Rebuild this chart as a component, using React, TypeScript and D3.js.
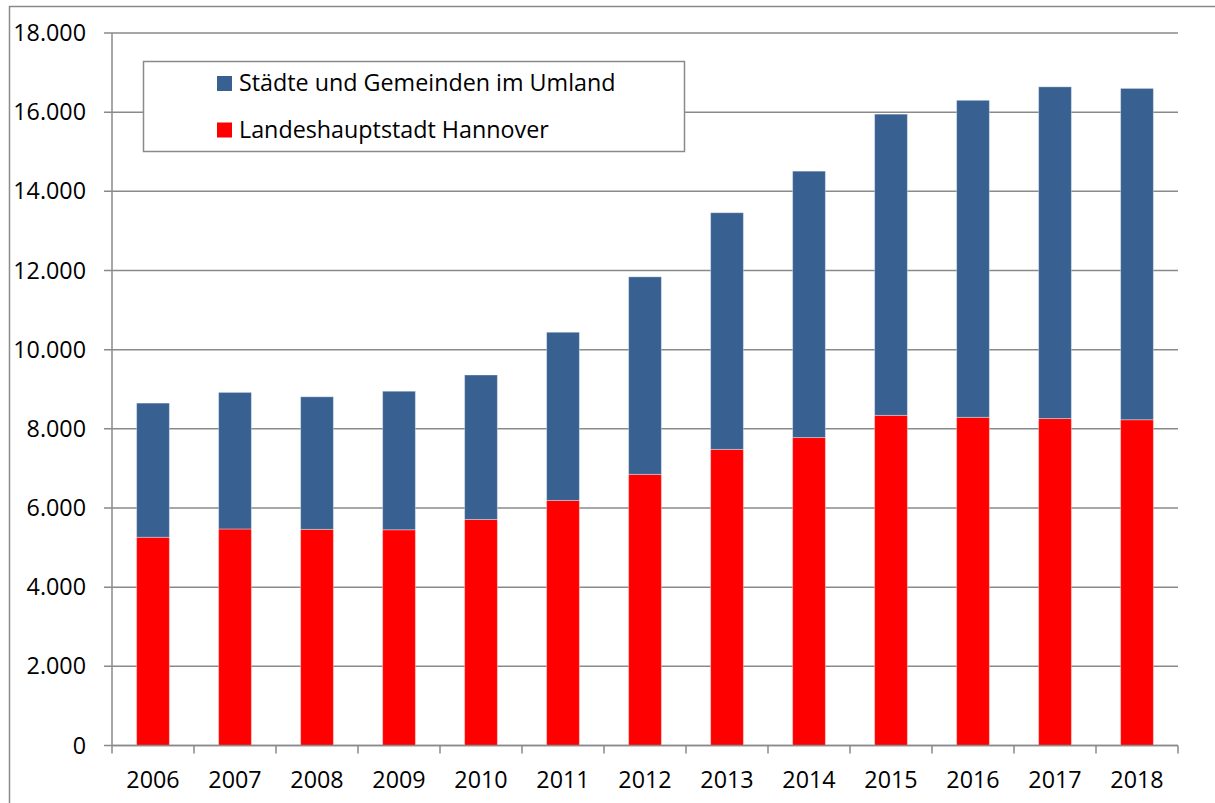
import React, { useEffect, useRef } from 'react';
import * as d3 from 'd3';

// Jahre (x-Achse)
const years = ['2006', '2007', '2008', '2009', '2010', '2011', '2012', '2013', '2014', '2015', '2016', '2017', '2018'];
// Landeshauptstadt Hannover (unten, rot)
const hannover = [5260, 5470, 5460, 5450, 5710, 6190, 6850, 7480, 7780, 8340, 8290, 8260, 8230];
// Städte und Gemeinden im Umland (oben, blau)
const umland = [3390, 3450, 3350, 3500, 3650, 4250, 4990, 5980, 6730, 7610, 8010, 8380, 8370];
const yTicks = [0, 2000, 4000, 6000, 8000, 10000, 12000, 14000, 16000, 18000];
const seriesNames = ['Städte und Gemeinden im Umland', 'Landeshauptstadt Hannover'];

const WIDTH = 1215;
const HEIGHT = 803;
const FONT = '"Open Sans", "Liberation Sans", sans-serif';
const FONT_SIZE = '23.3px';
const GRID = '#8a8a8a';

const App: React.FC = () => {
  const svgRef = useRef<SVGSVGElement>(null);

  useEffect(() => {
    if (!svgRef.current) return;
    const svg = d3.select(svgRef.current);
    svg.selectAll('*').remove();

    const left = 112;
    const right = 1178;
    const top = 33;
    const bottom = 745.5;

    const x = d3.scaleBand<string>().domain(years).range([left, right]).paddingInner(0.6).paddingOuter(0.3);
    const xTickScale = d3.scaleBand<string>().domain(years).range([left, right]);
    const y = d3.scaleLinear().domain([0, 18000]).range([bottom, top]);

    // äußerer Rahmen
    svg
      .append('rect')
      .attr('x', 9.5)
      .attr('y', 6.5)
      .attr('width', WIDTH)
      .attr('height', HEIGHT)
      .style('fill', 'white')
      .style('stroke', GRID)
      .style('stroke-width', 1.5);

    // Gitterlinien + y-Ticks
    const grid = svg.append('g');
    grid
      .selectAll('line')
      .data(yTicks)
      .enter()
      .append('line')
      .attr('x1', left - 8)
      .attr('x2', right)
      .attr('y1', (d) => y(d))
      .attr('y2', (d) => y(d))
      .style('stroke', GRID)
      .style('stroke-width', 1.5);

    const fmt = (v: number) => (v === 0 ? '0' : d3.format(',')(v).replace(/,/g, '.'));
    svg
      .append('g')
      .selectAll('text')
      .data(yTicks)
      .enter()
      .append('text')
      .attr('x', 86)
      .attr('y', (d) => y(d))
      .attr('dy', '0.35em')
      .attr('text-anchor', 'end')
      .style('font-family', FONT)
      .style('font-size', FONT_SIZE)
      .style('fill', '#000')
      .text(fmt);

    // gestapelte Balken
    const stack = d3
      .stack<number>()
      .keys(['hannover', 'umland'])
      .value((i, key) => (key === 'hannover' ? hannover[i] : umland[i]));
    const layers = stack(years.map((_, i) => i));
    const colors = ['#ff0000', '#386192'];

    layers.forEach((layer, li) => {
      svg
        .append('g')
        .selectAll('rect')
        .data(layer)
        .enter()
        .append('rect')
        .attr('x', (d) => x(years[d.data])!)
        .attr('width', x.bandwidth())
        .attr('y', (d) => y(d[1]))
        .attr('height', (d) => y(d[0]) - y(d[1]))
        .style('fill', colors[li])
        .style('stroke', 'rgba(255,255,255,0.35)')
        .style('stroke-width', 1);
    });

    // x-Achse
    const axis = svg.append('g');
    axis
      .append('line')
      .attr('x1', left)
      .attr('x2', right)
      .attr('y1', bottom)
      .attr('y2', bottom)
      .style('stroke', GRID)
      .style('stroke-width', 1.5);
    axis
      .selectAll('.tick')
      .data([...years.map((d) => xTickScale(d)!), right])
      .enter()
      .append('line')
      .attr('x1', (d) => d)
      .attr('x2', (d) => d)
      .attr('y1', bottom)
      .attr('y2', bottom + 8)
      .style('stroke', GRID)
      .style('stroke-width', 1.5);
    axis
      .selectAll('text')
      .data(years)
      .enter()
      .append('text')
      .attr('x', (d) => x(d)! + x.bandwidth() / 2)
      .attr('y', 788)
      .attr('text-anchor', 'middle')
      .style('font-family', FONT)
      .style('font-size', FONT_SIZE)
      .style('fill', '#000')
      .text((d) => d);

    // y-Achse
    svg
      .append('line')
      .attr('x1', left)
      .attr('x2', left)
      .attr('y1', top)
      .attr('y2', bottom)
      .style('stroke', GRID)
      .style('stroke-width', 1.5);

    // Legende
    const legend = svg.append('g');
    legend
      .append('rect')
      .attr('x', 143.5)
      .attr('y', 61.5)
      .attr('width', 541)
      .attr('height', 90)
      .style('fill', 'white')
      .style('stroke', GRID)
      .style('stroke-width', 1.5);
    const legendColors = ['#386192', '#ff0000'];
    seriesNames.forEach((name, i) => {
      const cy = 83.5 + i * 46.5;
      legend
        .append('rect')
        .attr('x', 217)
        .attr('y', cy - 7.5)
        .attr('width', 15)
        .attr('height', 15)
        .style('fill', legendColors[i]);
      legend
        .append('text')
        .attr('x', 239)
        .attr('y', cy + 7.5)
        .style('font-family', FONT)
        .style('font-size', FONT_SIZE)
        .style('fill', '#000')
        .text(name);
    });
  }, []);

  return (
    <div style={{ position: 'absolute', left: 0, top: 0 }}>
      <svg ref={svgRef} width={WIDTH} height={HEIGHT} style={{ display: 'block' }} />
    </div>
  );
};

export default App;
